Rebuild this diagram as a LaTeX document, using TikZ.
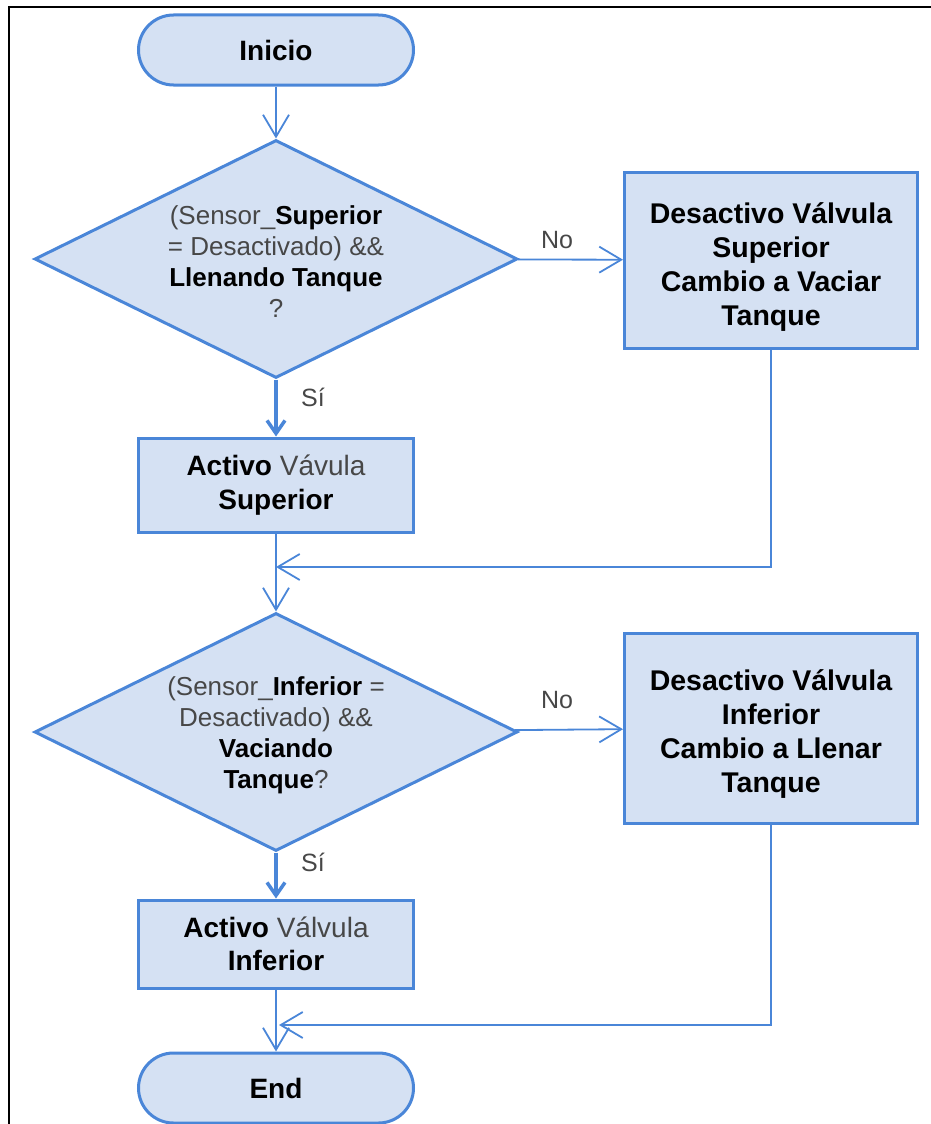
\documentclass[tikz,border=0pt]{standalone}
\usepackage{fontspec}
\setmainfont{Liberation Sans}
\usetikzlibrary{arrows.meta,shapes.geometric}
\definecolor{flowline}{RGB}{74,134,216}
\definecolor{flowfill}{RGB}{213,225,243}
% lighter tone used for the non-bold words
\newcommand{\lt}[1]{{\color{black!72}#1}}

\begin{document}
\begin{tikzpicture}[x=1pt,y=-1pt,
  shapeline/.style={draw=flowline, line width=3pt, fill=flowfill},
  terminal/.style={shapeline, rectangle, rounded corners=35pt, minimum width=275pt,
    minimum height=70pt, inner sep=0pt, font=\fontsize{28}{33}\selectfont\bfseries},
  process/.style={shapeline, rectangle, minimum width=275pt, inner sep=0pt, align=center,
    font=\fontsize{28}{33.5}\selectfont\bfseries},
  sideproc/.style={shapeline, rectangle, minimum width=293pt, inner sep=0pt},
  sidetext/.style={inner sep=0pt, align=center, font=\fontsize{28.5}{33.8}\selectfont\bfseries},
  decision/.style={shapeline, diamond, aspect=2.03, minimum width=483pt, minimum height=238pt,
    inner sep=0pt},
  dectext/.style={inner sep=0pt, align=center, font=\fontsize{26}{31}\selectfont},
  conn/.style={draw=flowline, line width=1.8pt, -{Straight Barb[length=22pt,width=26pt]}},
  yes/.style={draw=flowline, line width=3.5pt, -{Straight Barb[length=13pt,width=18pt]}},
  lbl/.style={font=\fontsize{25}{30}\selectfont, text=black!72, inner sep=0pt}
]
\useasboundingbox (0,0) rectangle (931,1124);

% page frame (top and left edges)
\draw[black, line width=2pt] (9,1124) -- (9,7) -- (931,7);

% nodes
\node[terminal] (start) at (276,50) {Inicio};

\node[decision] (d1) at (276,259) {};
\node[dectext] (d1t) at (276,262)
  {\lt{(Sensor\_}\textbf{Superior}\\ \lt{= Desactivado) \&\&}\\ \textbf{Llenando Tanque}\\ \lt{?}};

\node[sideproc, minimum height=176pt] (n1) at (771,260) {};
\node[sidetext] (n1t) at (771,267)
  {Desactivo Válvula\\Superior\\Cambio a Vaciar\\Tanque};

\node[process, minimum height=94pt] (a1) at (276,485)
  {Activo \lt{\mdseries Vávula}\\Superior};

\node[decision] (d2) at (276,732) {};
\node[dectext] (d2t) at (276,735)
  {\lt{(Sensor\_}\textbf{Inferior} \lt{=}\\ \lt{Desactivado) \&\&}\\ \textbf{Vaciando}\\ \textbf{Tanque}\lt{?}};

\node[sideproc, minimum height=190pt] (n2) at (771,728) {};
\node[sidetext] (n2t) at (771,734)
  {Desactivo Válvula\\Inferior\\Cambio a Llenar\\Tanque};

\node[process, minimum height=88pt] (a2) at (276,944)
  {Activo \lt{\mdseries Válvula}\\Inferior};
\node[terminal] (end) at (276,1088) {End};

% merge points
\coordinate (m1) at (276,567);
\coordinate (m2) at (279,1025);

% connectors
\draw[conn] (start) -- (d1);
\draw[conn] (d1) -- (n1);
\draw[yes] (d1) -- (a1);
\draw[conn] (n1.south) |- (m1);
\draw[conn] (a1) -- (d2);
\draw[conn] (d2) -- (n2);
\draw[yes] (d2) -- (a2);
\draw[conn] (n2.south) |- (m2);
\draw[conn] (a2) -- (end);

% branch labels
\node[lbl] (no1) at (557,240) {No};
\node[lbl] (si1) at (313,397) {Sí};
\node[lbl] (no2) at (557,700) {No};
\node[lbl] (si2) at (313,862) {Sí};
\end{tikzpicture}
\end{document}
